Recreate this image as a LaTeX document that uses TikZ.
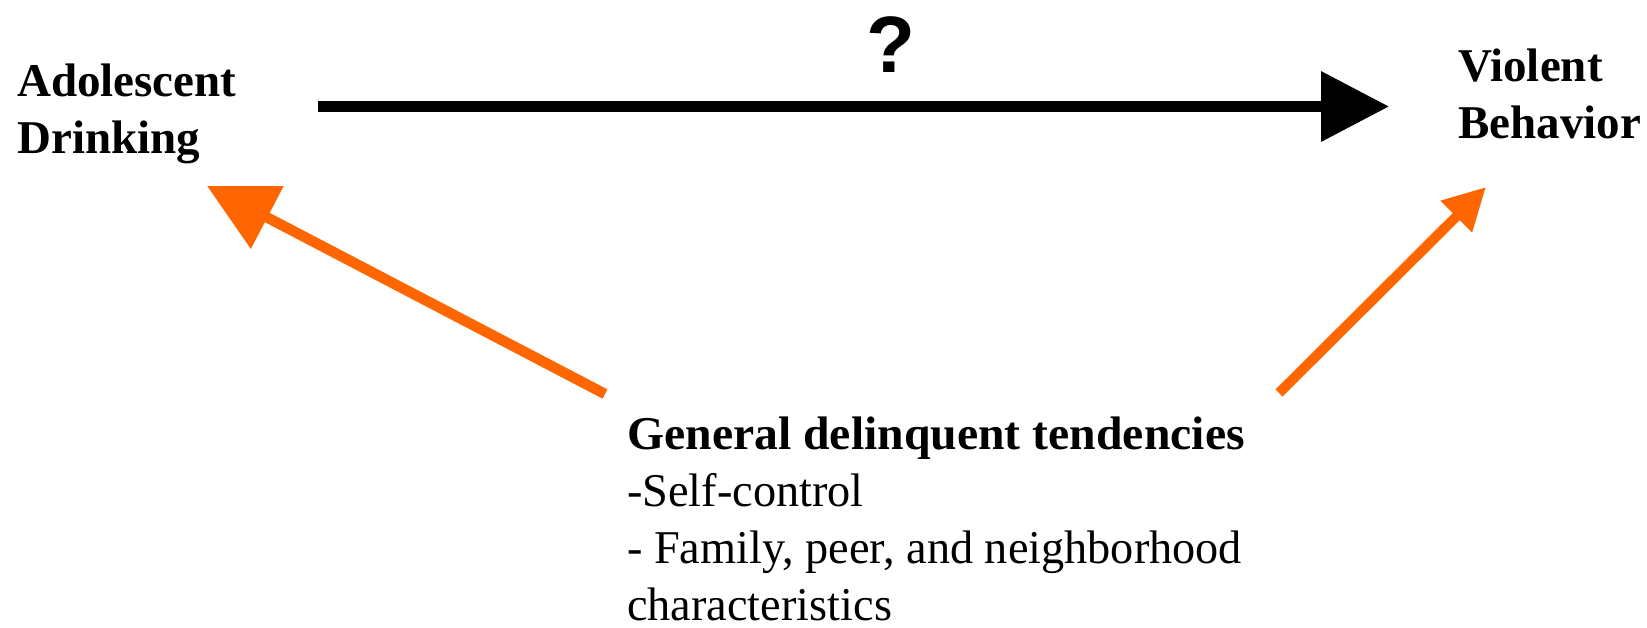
\documentclass[tikz,border=0pt]{standalone}
\usepackage{graphicx}
\usepackage{fontspec}
\setmainfont{Liberation Serif}
\newfontfamily\qfont{Liberation Sans}
\usetikzlibrary{arrows.meta}
\definecolor{arroworange}{HTML}{FF6600}
\newcommand{\boldline}[1]{\scalebox{1.015}[1]{\textbf{#1}}}
\newcommand{\plainline}[1]{\scalebox{0.985}[1]{#1}}
\begin{document}
\begin{tikzpicture}[x=1pt,y=-1pt,
  lbl/.style={inner sep=0pt, anchor=base west, align=left,
    font=\fontsize{47}{57}\selectfont\bfseries},
  body/.style={inner sep=0pt, anchor=base west, align=left,
    font=\fontsize{47}{57}\selectfont},
  mainarrow/.style={line width=10.5pt, -{Triangle[length=68pt,width=68pt]}},
  bigorange/.style={arroworange, line width=10.5pt, -{Triangle[length=68pt,width=68pt]}},
  smallorange/.style={arroworange, line width=10pt, -{Triangle[length=42pt,width=42pt]}}]
\useasboundingbox (0,0) rectangle (1647,627);

% base anchor of a multi-line node sits on its last line
\node[lbl] (drink) at (17,153) {Adolescent\\Drinking};
\node[lbl] (viol) at (1458,138) {Violent\\Behavior};
\node[body] (gdt) at (627,620) {\boldline{General delinquent tendencies}\\
  \plainline{-Self-control}\\
  \plainline{- Family, peer, and neighborhood}\\
  \plainline{characteristics}};
\node[inner sep=0pt, anchor=base, font=\qfont\bfseries\fontsize{80}{90}\selectfont] (q) at (891,72) {?};

\coordinate (mstart) at (318,106.5);
\coordinate (mtip) at (1389,106.5);
\coordinate (lstart) at (605,394);
\coordinate (ltip) at (207,186);
\coordinate (rstart) at (1279,393);
\coordinate (rtip) at (1486,187);

\draw[mainarrow] (mstart) -- (mtip);
\draw[bigorange] (lstart) -- (ltip);
\draw[smallorange] (rstart) -- (rtip);
\end{tikzpicture}
\end{document}
